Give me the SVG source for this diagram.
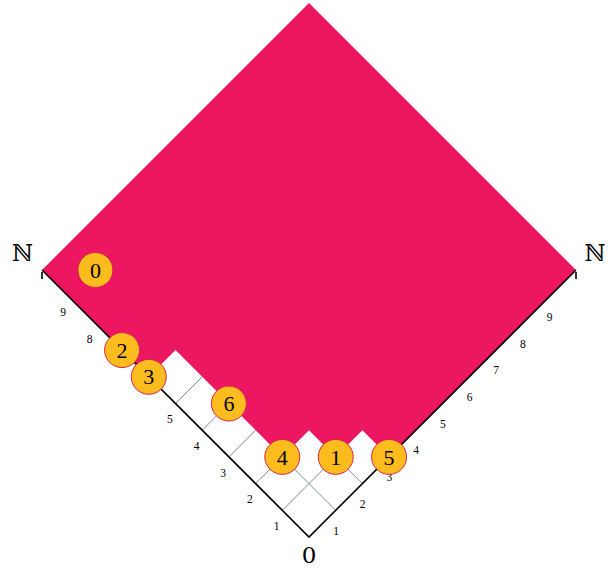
<svg xmlns="http://www.w3.org/2000/svg" width="612" height="568" viewBox="0 0 612 568">
<style>
.grid{stroke:#7f8b98;stroke-width:1;fill:none}
.axis{stroke:#000;stroke-width:1.6;fill:none}
.region{fill:#ED1660;stroke:none}
.node circle{fill:#FCBC1E;stroke:#D8204E;stroke-width:1}
.node text{font-family:"Liberation Serif","DejaVu Serif",serif;font-size:22px;text-anchor:middle;fill:#000}
.tick{font-family:"Liberation Serif","DejaVu Serif",serif;font-size:11.5px;text-anchor:middle;fill:#000}
.big{font-family:"DejaVu Serif","Liberation Serif",serif;font-size:23px;text-anchor:middle;fill:#000}
</style>
<g id="grid" class="grid">
<line x1="282.3" y1="510.3" x2="335.7" y2="456.9"/>
<line x1="255.6" y1="483.6" x2="282.3" y2="456.9"/>
<line x1="228.9" y1="456.9" x2="255.6" y2="430.2"/>
<line x1="202.2" y1="430.2" x2="228.9" y2="403.5"/>
<line x1="175.5" y1="403.5" x2="202.2" y2="376.8"/>
<line x1="335.7" y1="510.3" x2="282.3" y2="456.9"/>
<line x1="362.4" y1="483.6" x2="335.7" y2="456.9"/>
</g>
<polygon id="region" class="region" points="42,270 309,3 576,270 389.1,456.9 362.4,430.2 335.7,456.9 309,430.2 282.3,456.9 175.5,350.1 148.8,376.8"/>
<g id="axes">
<polyline class="axis" points="42,270 309,537 576,270"/>
<line class="axis" x1="42" y1="272" x2="42" y2="279" stroke-width="1.2"/>
<line class="axis" x1="576" y1="272" x2="576" y2="279" stroke-width="1.2"/>
</g>
<g id="ticks-left">
<text class="tick" x="276.6" y="530">1</text>
<text class="tick" x="249.9" y="503.3">2</text>
<text class="tick" x="223.2" y="476.6">3</text>
<text class="tick" x="196.5" y="449.9">4</text>
<text class="tick" x="169.8" y="423.2">5</text>
<text class="tick" x="89.7" y="343.1">8</text>
<text class="tick" x="63" y="316.4">9</text>
</g>
<g id="ticks-right">
<text class="tick" x="336" y="534.5">1</text>
<text class="tick" x="362.7" y="507.8">2</text>
<text class="tick" x="389.4" y="481.1">3</text>
<text class="tick" x="416.1" y="454.4">4</text>
<text class="tick" x="442.8" y="427.7">5</text>
<text class="tick" x="469.5" y="401">6</text>
<text class="tick" x="496.2" y="374.3">7</text>
<text class="tick" x="522.9" y="347.6">8</text>
<text class="tick" x="549.6" y="320.9">9</text>
</g>
<text id="label-N-left" class="big" x="22.5" y="261">ℕ</text>
<text id="label-N-right" class="big" x="595" y="261">ℕ</text>
<text id="label-origin" class="big" x="309" y="563" font-family="Liberation Serif">0</text>
<g id="node0" class="node"><circle cx="95.4" cy="270" r="17.5"/><text x="95.4" y="277.6">0</text></g>
<g id="node1" class="node"><circle cx="335.7" cy="456.9" r="17.5"/><text x="335.7" y="464.5">1</text></g>
<g id="node2" class="node"><circle cx="122.1" cy="350.1" r="17.5"/><text x="122.1" y="357.7">2</text></g>
<g id="node3" class="node"><circle cx="148.8" cy="376.8" r="17.5"/><text x="148.8" y="384.4">3</text></g>
<g id="node4" class="node"><circle cx="282.3" cy="456.9" r="17.5"/><text x="282.3" y="464.5">4</text></g>
<g id="node5" class="node"><circle cx="389.1" cy="456.9" r="17.5"/><text x="389.1" y="464.5">5</text></g>
<g id="node6" class="node"><circle cx="228.9" cy="403.5" r="17.5"/><text x="228.9" y="411.1">6</text></g>
</svg>
